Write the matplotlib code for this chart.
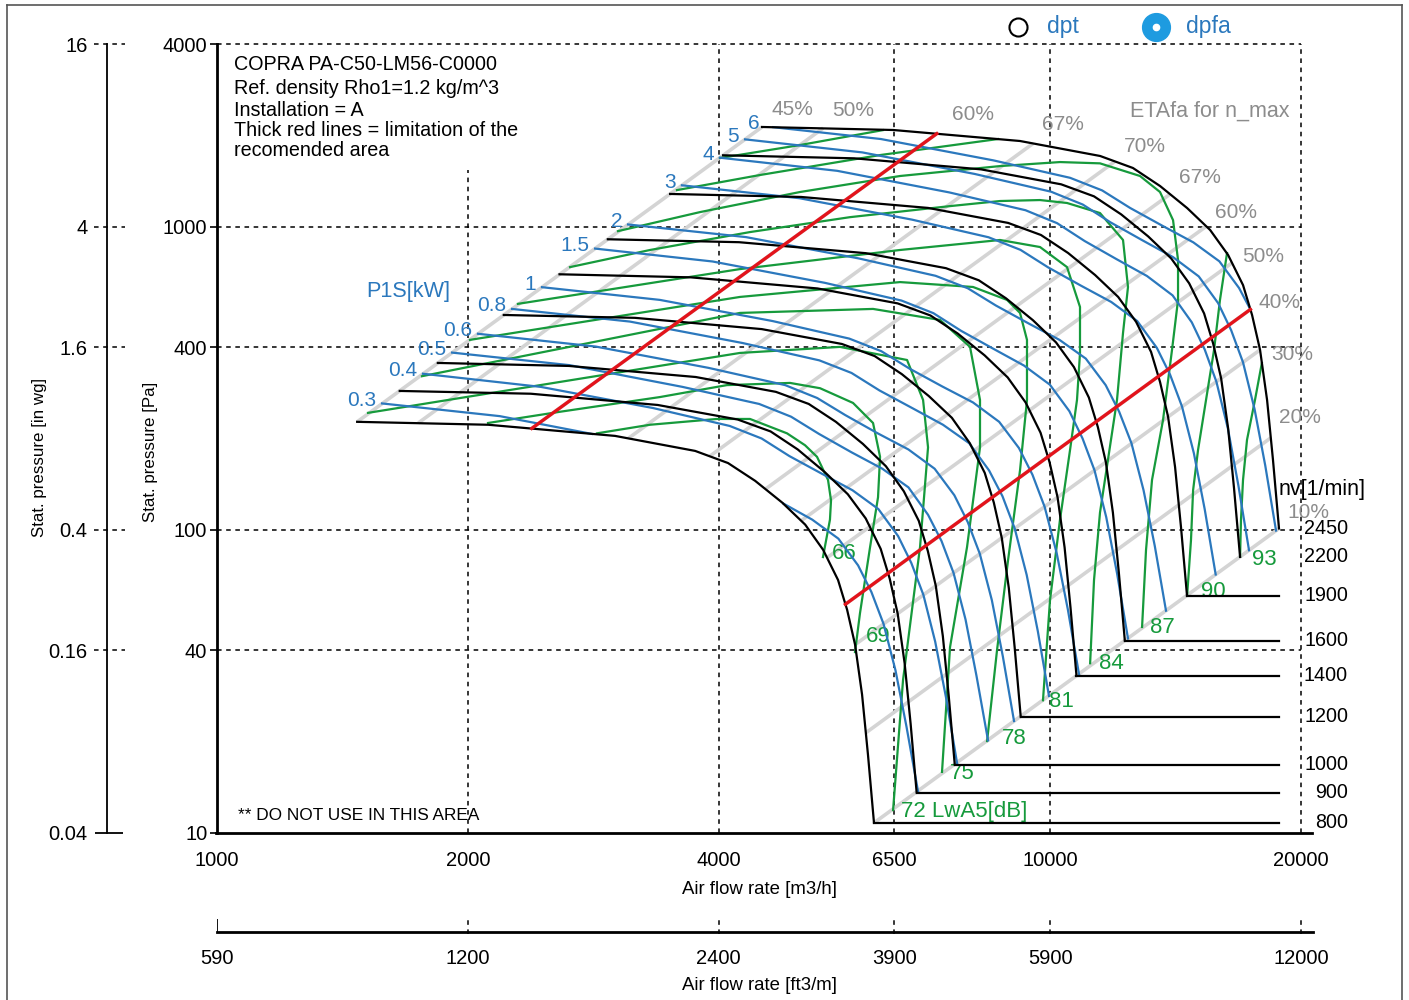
import matplotlib
matplotlib.use('Agg')
import matplotlib.pyplot as plt
import matplotlib.transforms as mtransforms
from matplotlib.lines import Line2D
from matplotlib.ticker import NullLocator

plt.rcParams['font.family'] = ['Liberation Sans', 'DejaVu Sans']
nan = float('nan')

# speed lines nv [1/min]: flow [m3/h] / static pressure [Pa]
speeds = [800, 900, 1000, 1200, 1400, 1600, 1900, 2200, 2450]
q_n2450 = [4510, 6480, 9200, 11480, 12570, 13550, 14600, 15560, 16350, 17040, 17470, 17860, 18210, 18510, 18820]
p_n2450 = [2130, 2082, 1915, 1709, 1560, 1360, 1151, 974, 806, 641, 511, 392, 268, 170, 101]
q_n2200 = [4050, 5819, 8261, 10309, 11287, 12167, 13110, 13972, 14682, 15301, 15687, 16038, 16352, 16621, 16900]
p_n2200 = [1718, 1679, 1544, 1378, 1258, 1097, 928, 785, 650, 517, 412, 316, 216, 137, 81.4]
q_n1900 = [3498, 5025, 7135, 8903, 9748, 10508, 11322, 12067, 12680, 13215, 13548, 13851, 14122, 14355, 14595]
p_n1900 = [1281, 1252, 1152, 1028, 938, 818, 692, 586, 485, 386, 307, 236, 161, 102, 60.7]
q_n1600 = [2945, 4232, 6008, 7497, 8209, 8849, 9535, 10162, 10678, 11128, 11409, 11664, 11892, 12088, 12291]
p_n1600 = [908, 888, 817, 729, 665, 580, 491, 415, 344, 273, 218, 167, 114, 72.5, 43.1]
q_n1400 = [2577, 3703, 5257, 6560, 7183, 7743, 8343, 8892, 9343, 9737, 9983, 10206, 10406, 10577, 10754]
p_n1400 = [696, 680, 625, 558, 509, 444, 376, 318, 263, 209, 167, 128, 87.5, 55.5, 33.0]
q_n1200 = [2209, 3174, 4506, 5623, 6157, 6637, 7151, 7621, 8008, 8346, 8557, 8748, 8919, 9066, 9218]
p_n1200 = [511, 500, 459, 410, 374, 326, 276, 234, 193, 154, 123, 94.0, 64.3, 40.8, 24.2]
q_n1000 = [1841, 2645, 3755, 4686, 5131, 5531, 5959, 6351, 6673, 6955, 7131, 7290, 7433, 7555, 7682]
p_n1000 = [355, 347, 319, 285, 260, 227, 192, 162, 134, 107, 85.1, 65.3, 44.6, 28.3, 16.8]
q_n900 = [1657, 2380, 3380, 4217, 4618, 4978, 5363, 5716, 6006, 6260, 6418, 6561, 6689, 6800, 6914]
p_n900 = [287, 281, 258, 231, 211, 184, 155, 131, 109, 86.5, 69.0, 52.9, 36.2, 22.9, 13.6]
q_n800 = [1473, 2116, 3004, 3749, 4105, 4425, 4767, 5081, 5339, 5564, 5705, 5832, 5946, 6044, 6145]
p_n800 = [227, 222, 204, 182, 166, 145, 123, 104, 85.9, 68.3, 54.5, 41.8, 28.6, 18.1, 10.8]

# efficiency (system) lines ETAfa for n_max
eta_labels = ['45%', '50%', '60%', '67%', '70%', '67%', '60%', '50%', '40%', '30%', '20%', '10%']
eta_q_top = [4510, 5340, 7310, 9540, 11960, 13930, 15380, 16530, 17390, 17860, 18400, 18820]
eta_p_top = [2130, 2112, 2025, 1880, 1640, 1279, 1000, 759, 533, 392, 201, 101]
eta_q_low = [1473, 1744, 2387, 3115, 3905, 4549, 5022, 5398, 5678, 5832, 6008, 6145]
eta_p_low = [227, 225, 216, 200, 175, 136, 107, 80.9, 56.8, 41.8, 21.4, 10.8]

# limits of the recommended area
red_up_q = [2387, 7310]
red_up_p = [216, 2025]
red_lo_q = [5678, 17390]
red_lo_p = [56.8, 533]

# shaft power P1S [kW]
kw_labels = ['0.3', '0.4', '0.5', '0.6', '0.8', '1', '1.5', '2', '3', '4', '5', '6']
q_kw03 = [1578, 2185, 2820, nan, 4785, 5181, 5569, 5881, 6102, 6310, 6521, 6723, 6941]
p_kw03 = [261, 237, 207, nan, 122, 108, 93.5, 76.3, 62.3, 48.9, 34.4, 22.4, 13.7]
q_kw04 = [1767, 2446, 3338, 4124, 4505, 4864, 5322, 5791, 6221, 6569, 6813, 7044, 7277, 7500, 7731]
p_kw04 = [327, 296, 252, 220, 200, 175, 153, 135, 117, 95.3, 77.7, 61.0, 42.8, 27.9, 17.0]
q_kw05 = [1915, 2651, 3619, 4474, 4887, 5280, 5777, 6288, 6759, 7136, 7406, 7657, 7914, 8157, 8422]
p_kw05 = [384, 349, 296, 260, 236, 207, 180, 159, 138, 112, 91.8, 72.0, 50.6, 33.0, 20.2]
q_kw06 = [2057, 2848, 3889, 4807, 5252, 5675, 6209, 6759, 7266, 7673, 7963, 8233, 8511, 8774, 9049]
p_kw06 = [443, 402, 342, 300, 272, 239, 208, 184, 159, 130, 106, 83.3, 58.6, 38.2, 23.4]
q_kw08 = [2260, 3130, 4273, 5284, 5775, 6240, 6830, 7436, 7994, 8445, 8765, 9066, 9371, 9664, 9967]
p_kw08 = [535, 486, 413, 362, 329, 288, 252, 222, 193, 157, 129, 101, 71.0, 46.3, 28.3]
q_kw1 = [2455, 3400, 4642, 5740, 6272, 6779, 7420, 8079, 8685, 9173, 9521, 9848, 10181, 10499, 10829]
p_kw1 = [631, 573, 488, 427, 388, 340, 297, 263, 227, 186, 152, 119, 83.8, 54.7, 33.4]
q_kw15 = [2843, 3934, 5368, 6631, 7242, 7818, 8551, 9302, 9991, 10546, 10936, 11304, 11676, 12030, 12399]
p_kw15 = [846, 767, 652, 570, 518, 453, 395, 348, 301, 246, 200, 157, 110, 71.8, 43.8]
q_kw2 = [3114, 4314, 5892, 7285, 7963, 8607, 9423, 10260, 11033, 11657, 12101, 12518, 12944, 13351, 13772]
p_kw2 = [1016, 923, 785, 688, 626, 549, 479, 423, 367, 300, 245, 193, 135, 88.5, 54.1]
q_kw3 = [3614, 5002, 6825, 8433, 9211, 9947, 10881, 11838, 12719, 13428, 13927, 14395, 14874, 15326, 15799]
p_kw3 = [1368, 1240, 1054, 922, 838, 733, 639, 564, 488, 398, 325, 255, 179, 117, 71.2]
q_kw4 = [4014, 5550, 7567, 9341, 10193, 10999, 12020, 13066, 14025, 14791, 15328, 15829, 16340, 16822, 17324]
p_kw4 = [1687, 1527, 1296, 1132, 1026, 896, 780, 687, 593, 483, 393, 308, 216, 140, 85.6]
q_kw5 = [4303, 5951, 8117, 10024, 10942, 11810, 12912, 14041, 15076, 15907, 16490, 17037, 17591, 18118, 18666]
p_kw5 = [1939, 1756, 1491, 1303, 1182, 1033, 900, 793, 685, 559, 455, 357, 250, 163, 99.4]
q_kw6 = [4649, 6262, 8548, 10565, 11543, 12470, 13645, 14852, 15961, 16854, 17390]
p_kw6 = [2127, 1944, 1653, 1448, 1316, 1152, 1005, 887, 768, 627, 533]

# sound power LwA5 [dB]
lw_labels = ['66', '69', '72 LwA5[dB]', '75', '78', '81', '84', '87', '90', '93']
q_lw66 = [2858, 3309, 3982, 4362, 4832, 5079, 5250, 5412, 5457, 5441, 5337]
p_lw66 = [208, 222, 232, 232, 208, 190, 174, 146, 125, 108, 81.3]
q_lw69 = [2115, 2580, 3402, 4093, 4873, 5294, 5799, 6129, 6249, 6214, 6079, 5912, 5831]
p_lw69 = [225, 245, 274, 300, 305, 293, 262, 225, 174, 128, 87.7, 53.1, 39.5]
q_lw72 = [1518, 4243, 5594, 6733, 7038, 7135, 6979, 6659, 6478]
p_lw72 = [243, 383, 401, 363, 268, 187, 87.7, 32.0, 11.9]
q_lw75 = [1762, 4243, 6129, 7376, 8013, 8237, 8237, 7947, 7582, 7416]
p_lw75 = [321, 519, 535, 492, 401, 268, 187, 87.7, 41.0, 15.9]
q_lw78 = [2012, 4243, 6604, 8080, 8876, 9200, 9379, 9379, 9200, 8901, 8634, 8400]
p_lw78 = [423, 586, 656, 632, 573, 519, 423, 268, 157, 79.4, 40.1, 20.1]
q_lw81 = [2297, 4243, 6604, 8706, 9723, 10476, 10859, 10859, 10769, 10563, 10275, 9995, 9803]
p_lw81 = [556, 724, 837, 903, 856, 735, 543, 383, 268, 183, 108, 58.6, 27.4]
q_lw84 = [2653, 3309, 4362, 5751, 7582, 8706, 9723, 10476, 11476, 12230, 12399, 12230, 12028, 11476, 11288, 11167]
p_lw84 = [735, 837, 959, 1074, 1168, 1214, 1223, 1196, 1108, 903, 632, 446, 268, 114, 68.3, 36.3]
q_lw87 = [3029, 3799, 5009, 6604, 8706, 10275, 11476, 12818, 13546, 14043, 14238, 14238, 14003, 13659, 13250, 13032, 12891]
p_lw87 = [966, 1116, 1300, 1468, 1583, 1632, 1616, 1468, 1300, 1050, 776, 573, 392, 230, 146, 85.7, 47.8]
q_lw90 = [3565, 4484, 6249, 8658, nan, 16302, 15988, 15728, 15383, 15046, 14843, 14757, 14600]
p_lw90 = [1319, 1479, 1721, 1944, nan, 818, 573, 392, 268, 183, 135, 92.5, 60.7]
q_lw93 = [4015, 5009, 6300, nan, 17950, 17612, 17228, 17039, 16944, 16900]
p_lw93 = [1683, 1857, 2080, nan, 355, 268, 198, 146, 108, 81.4]

x_ticks = [1000, 2000, 4000, 6500, 10000, 20000]
cfm_labels = ['590', '1200', '2400', '3900', '5900', '12000']
y_ticks = [10, 40, 100, 400, 1000, 4000]
inwg_ticks = [0.04, 0.16, 0.4, 1.6, 4, 16]

BLUE = '#2b78bd'
GREEN = '#169a3c'
RED = '#e3131b'
GREY = '#d4d4d4'
TGREY = '#8c8c8c'
W, H = 1409, 1000

fig = plt.figure(figsize=(W / 100, H / 100), dpi=100)
ax = fig.add_axes([217 / W, 1 - 833 / H, 1084 / W, 789 / H])
ax.set_xscale('log')
ax.set_yscale('log')
ax.set_xlim(1000, 20000)
ax.set_ylim(10, 4000)
ax.set_xticks(x_ticks)
ax.set_xticklabels([str(v) for v in x_ticks])
ax.set_yticks(y_ticks)
ax.set_yticklabels([str(v) for v in y_ticks])
ax.xaxis.set_minor_locator(NullLocator())
ax.yaxis.set_minor_locator(NullLocator())
ax.tick_params(axis='x', length=0, pad=13, labelsize=14.5)
ax.tick_params(axis='y', length=5, width=1.2, pad=2, labelsize=14.5)
for s in ['top', 'right', 'bottom']:
    ax.spines[s].set_visible(False)
ax.spines['left'].set_linewidth(2)

dash = (0, (3, 3))
for v in [40, 100, 400, 1000, 4000]:
    ax.axhline(v, color='black', lw=1.1, ls=dash, zorder=0.5, clip_on=False)
for v in [4000, 6500, 10000, 20000]:
    ax.axvline(v, color='black', lw=1.1, ls=dash, zorder=0.5, clip_on=False)
ax.vlines(2000, 10, 1540, color='black', lw=1.1, linestyles=dash, zorder=0.5)

# efficiency lines
for i in range(len(eta_labels)):
    ax.plot([eta_q_low[i], eta_q_top[i]], [eta_p_low[i], eta_p_top[i]],
            color=GREY, lw=2.6, zorder=1, solid_capstyle='butt')
eta_off = [(30, 17), (30, 18), (36, 19), (30, 19), (30, 15), (30, 17),
           (30, 14), (31, 6), (29, 7), (32, -5), (29, 20), (29, 16)]
for i, lab in enumerate(eta_labels):
    ax.annotate(lab, (eta_q_top[i], eta_p_top[i]), xytext=eta_off[i],
                textcoords='offset pixels', ha='center', va='center',
                color=TGREY, fontsize=15, annotation_clip=False)

# sound power lines
lw_curves = [(q_lw66, p_lw66), (q_lw69, p_lw69), (q_lw72, p_lw72), (q_lw75, p_lw75),
             (q_lw78, p_lw78), (q_lw81, p_lw81), (q_lw84, p_lw84), (q_lw87, p_lw87),
             (q_lw90, p_lw90), (q_lw93, p_lw93)]
lw_off = [(9, 4), (11, 16), (8, -1), (8, -2), (15, 3), (6, -1), (9, 0), (8, -1), (14, 4), (12, -3)]
for (q, p), lab, off in zip(lw_curves, lw_labels, lw_off):
    ax.plot(q, p, color=GREEN, lw=1.6, zorder=2)
    ax.annotate(lab, (q[-1], p[-1]), xytext=off, textcoords='offset pixels',
                ha='left', va='center', color=GREEN, fontsize=16)

# power lines
kw_curves = [(q_kw03, p_kw03), (q_kw04, p_kw04), (q_kw05, p_kw05), (q_kw06, p_kw06),
             (q_kw08, p_kw08), (q_kw1, p_kw1), (q_kw15, p_kw15), (q_kw2, p_kw2),
             (q_kw3, p_kw3), (q_kw4, p_kw4), (q_kw5, p_kw5), (q_kw6, p_kw6)]
kw_off = [(-6, 3)] * 11 + [(-13, 4)]
for (q, p), lab, off in zip(kw_curves, kw_labels, kw_off):
    ax.plot(q, p, color=BLUE, lw=1.6, zorder=3)
    ax.annotate(lab, (q[0], p[0]), xytext=off, textcoords='offset pixels',
                ha='right', va='center', color=BLUE, fontsize=15)

# speed lines
speed_curves = [(q_n800, p_n800), (q_n900, p_n900), (q_n1000, p_n1000), (q_n1200, p_n1200),
                (q_n1400, p_n1400), (q_n1600, p_n1600), (q_n1900, p_n1900),
                (q_n2200, p_n2200), (q_n2450, p_n2450)]
blend = mtransforms.blended_transform_factory(ax.transAxes, ax.transData)
for n, (q, p) in zip(speeds, speed_curves):
    ax.plot(q, p, color='black', lw=1.6, zorder=4)
    if n < 2200:
        ax.plot([q[-1], q_n2450[-1]], [p[-1], p[-1]], color='black', lw=1.6, zorder=4)
    ax.text(1.0434, p[-1], str(n), transform=blend, ha='right', va='center',
            fontsize=14.2, clip_on=False)

ax.plot(red_up_q, red_up_p, color=RED, lw=2.4, zorder=5)
ax.plot(red_lo_q, red_lo_p, color=RED, lw=2.4, zorder=5)

# texts
fig.text(234 / W, 1 - 64 / H, 'COPRA PA-C50-LM56-C0000', va='center', fontsize=14.2)
for txt, yy in [('Ref. density Rho1=1.2 kg/m^3', 89), ('Installation = A', 110),
                ('Thick red lines = limitation of the', 130), ('recomended area', 151)]:
    fig.text(234 / W, 1 - yy / H, txt, va='center', fontsize=14.2)
fig.text(408 / W, 1 - 292 / H, 'P1S[kW]', ha='center', va='center', color=BLUE, fontsize=15.6)
fig.text(1210 / W, 1 - 111 / H, 'ETAfa for n_max', ha='center', va='center', color=TGREY, fontsize=15.5)
fig.text(1322 / W, 1 - 489 / H, 'nv[1/min]', ha='center', va='center', fontsize=15.5)
fig.text(238 / W, 1 - 815 / H, '** DO NOT USE IN THIS AREA', va='center', fontsize=12.4)
fig.text(759 / W, 1 - 889 / H, 'Air flow rate [m3/h]', ha='center', va='center', fontsize=13.4)
fig.text(759 / W, 1 - 985 / H, 'Air flow rate [ft3/m]', ha='center', va='center', fontsize=13.4)
fig.text(150 / W, 1 - 452 / H, 'Stat. pressure [Pa]', ha='center', va='center', rotation=90, fontsize=12.2)
fig.text(40 / W, 1 - 457 / H, 'Stat. pressure [in wg]', ha='center', va='center', rotation=90, fontsize=12.2)

# legend
ax.plot([0.7389], [1.0215], marker='o', ms=13, mfc='white', mec='black', mew=1.5,
        transform=ax.transAxes, clip_on=False)
ax.plot([0.8662], [1.0215], marker='o', ms=20, mfc='#1e9be0', mec='#1e9be0',
        transform=ax.transAxes, clip_on=False)
ax.plot([0.8662], [1.0215], marker='o', ms=4.5, mfc='white', mec='white',
        transform=ax.transAxes, clip_on=False)
fig.text(1047 / W, 1 - 27 / H, 'dpt', va='center', color=BLUE, fontsize=16.5)
fig.text(1186 / W, 1 - 27 / H, 'dpfa', va='center', color=BLUE, fontsize=16.5)

# bottom axis line
fig.add_artist(Line2D([216 / W, 1312 / W], [1 - 833 / H, 1 - 833 / H], color='black', lw=2))

# in wg axis
ax2 = fig.add_axes([91 / W, 1 - 833 / H, 34 / W, 789 / H])
ax2.set_yscale('log')
ax2.set_ylim(0.04, 16)
ax2.set_xlim(0, 1)
ax2.patch.set_visible(False)
for s in ['top', 'right', 'bottom']:
    ax2.spines[s].set_visible(False)
ax2.spines['left'].set_position(('axes', 16 / 34))
ax2.spines['left'].set_linewidth(1.3)
ax2.set_xticks([])
ax2.set_yticks(inwg_ticks)
ax2.set_yticklabels([str(v) for v in inwg_ticks])
ax2.yaxis.set_minor_locator(NullLocator())
ax2.tick_params(axis='y', length=0, pad=14, labelsize=14.5)
ax2.hlines(inwg_ticks[1:], 0.1, 1.0, color='black', lw=1.1, linestyles=dash, clip_on=False)
ax2.hlines(inwg_ticks[0], 0.12, 0.94, color='black', lw=1.3, clip_on=False)

# ft3/m axis
ax3 = fig.add_axes([217 / W, 1 - 932 / H, 1096 / W, 15 / H])
ax3.set_xscale('log')
ax3.set_xlim(1000, 20675)
ax3.set_ylim(0, 1)
ax3.patch.set_visible(False)
for s in ['top', 'right', 'left']:
    ax3.spines[s].set_visible(False)
ax3.spines['bottom'].set_linewidth(2)
ax3.set_yticks([])
ax3.set_xticks(x_ticks)
ax3.set_xticklabels(cfm_labels)
ax3.xaxis.set_minor_locator(NullLocator())
ax3.tick_params(axis='x', length=0, pad=12, labelsize=14.5)
ax3.vlines(x_ticks[1:], -0.13, 1.0, color='black', lw=1.1, linestyles=dash, clip_on=False)
ax3.vlines(x_ticks[0], 0, 0.87, color='black', lw=1.3)

# frame
for xs, ys in [([7, 7], [5, 1000]), ([7, 1402], [5, 5]), ([1402, 1402], [5, 1000])]:
    fig.add_artist(Line2D([x / W for x in xs], [1 - y / H for y in ys], color='#555555', lw=1.2))

fig.savefig('out.png', dpi=100)
